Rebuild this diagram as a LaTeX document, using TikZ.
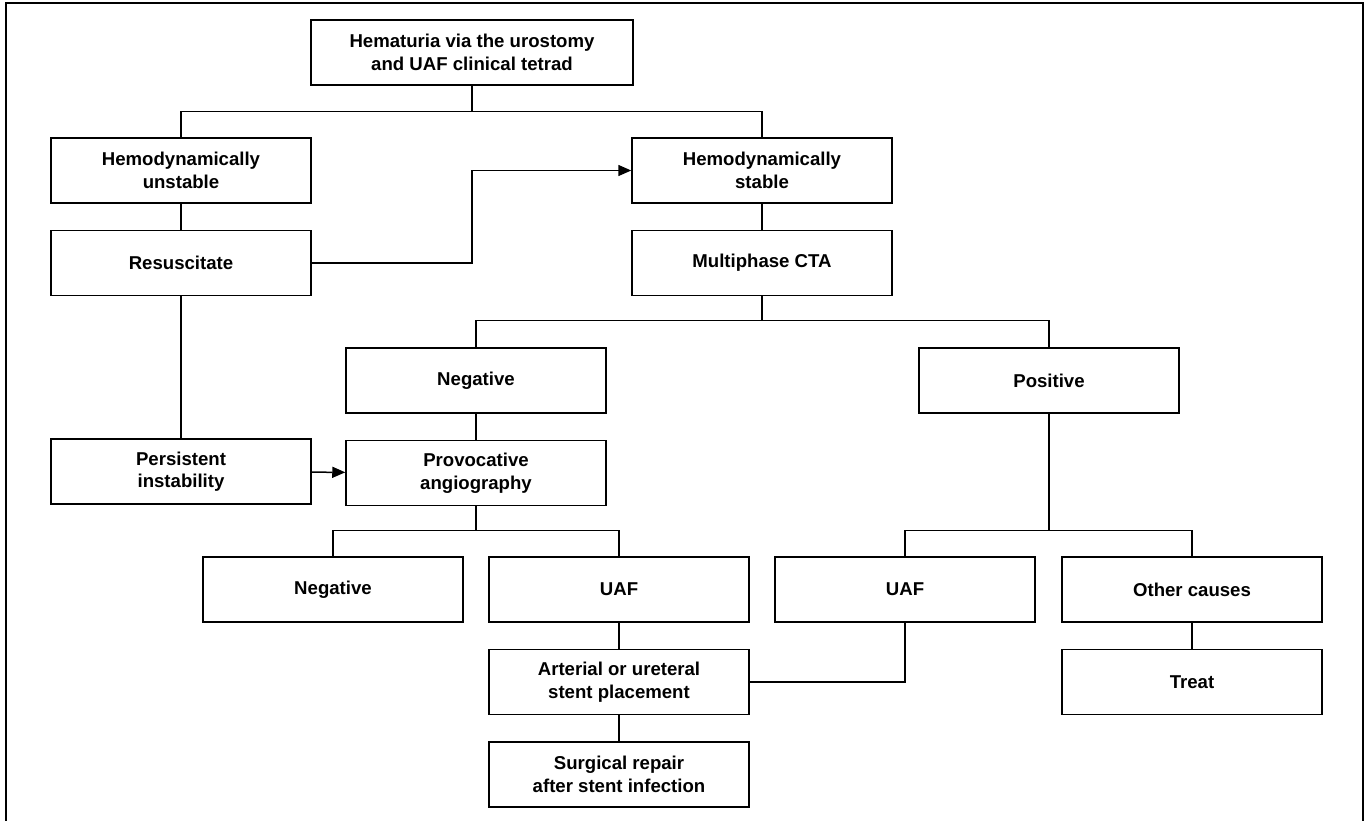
\documentclass[tikz,border=0pt]{standalone}
\usepackage{fontspec}
\setmainfont{Liberation Sans}
\usepackage{tikz}
\usetikzlibrary{arrows.meta, positioning}

\begin{document}
\begin{tikzpicture}[
    x=1pt, y=-1pt,
    node distance=26pt and 26pt,
    >={Triangle[length=13pt,width=11pt]},
    every node/.style={font=\fontsize{18.6}{22.5}\selectfont\bfseries},
    line width=1.5pt,
    box/.style={rectangle, draw, align=center, minimum width=260pt, minimum height=65pt, inner sep=0pt},
    wide/.style={box, minimum width=322pt}
  ]

  \useasboundingbox (0,0) rectangle (1370,820);
  \draw (6,3) rectangle (1363,830);

  \node[wide] (tetrad) at (472,52.5) {Hematuria via the urostomy\\and UAF clinical tetrad};
  \node[box] (unstable) at (181,170.5) {Hemodynamically\\unstable};
  \node[box, below=of unstable] (resus) {Resuscitate};
  \node[box] (stable) at (762,170.5) {Hemodynamically\\stable};
  \node[box, below=of stable] (cta) {Multiphase CTA};

  \node[box] (neg) at (476,380.5) {Negative};
  \node[box] (pos) at (1049,380.5) {Positive};
  \node[box, below=of neg] (provoc) {Provocative\\angiography};
  \node[box] (persist) at (181,471.5) {Persistent\\instability};

  \node[box] (neg2) at (333,589.5) {Negative};
  \node[box] (uafa) at (619,589.5) {UAF};
  \node[box] (uafb) at (905,589.5) {UAF};
  \node[box] (other) at (1192,589.5) {Other causes};
  \node[box, below=of uafa] (stent) {Arterial or ureteral\\stent placement};
  \node[box, below=of stent] (repair) {Surgical repair\\after stent infection};
  \node[box, below=of other] (treat) {Treat};

  \draw (unstable.north) -- ++(0,-26) coordinate (t1) -| (stable.north);
  \draw (tetrad) -- (tetrad |- t1);
  \draw (unstable) -- (resus);
  \draw (stable) -- (cta);
  \draw[->] (resus.east) -- (resus.east -| tetrad.south) |- (stable.west);

  \draw (neg.north) -- ++(0,-27) coordinate (c1) -| (pos.north);
  \draw (cta) -- (cta |- c1);
  \draw (neg) -- (provoc);
  \draw (resus) -- (persist);
  \draw[->] (persist) -- (provoc);

  \draw (neg2.north) -- ++(0,-26) coordinate (p1) -| (uafa.north);
  \draw (provoc) -- (provoc |- p1);
  \draw (uafb.north) -- ++(0,-26) coordinate (q1) -| (other.north);
  \draw (pos) -- (pos |- q1);

  \draw (uafa) -- (stent);
  \draw (stent) -- (repair);
  \draw (uafb.south) |- (stent.east);
  \draw (other) -- (treat);

\end{tikzpicture}
\end{document}
